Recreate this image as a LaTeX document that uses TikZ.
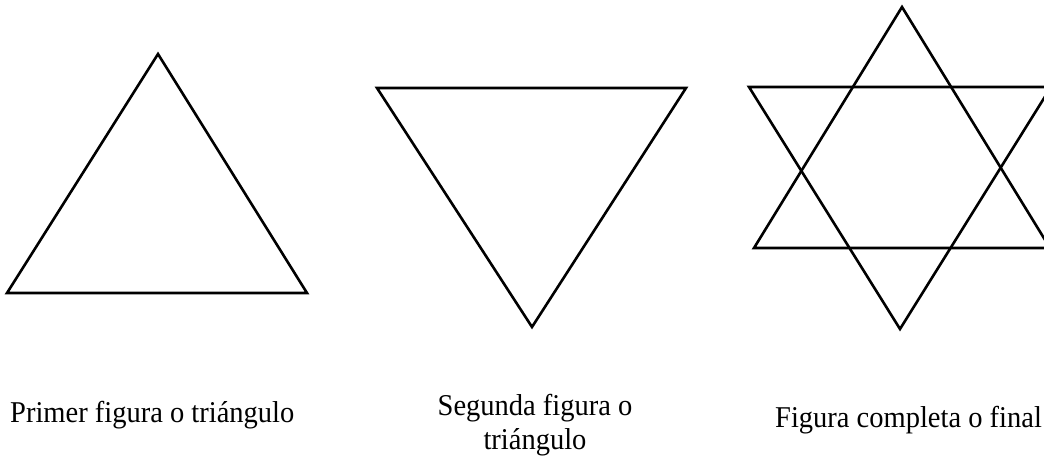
\documentclass[tikz,border=0pt]{standalone}
\usepackage{fontspec}
\setmainfont{Liberation Serif}

\begin{document}
\begin{tikzpicture}[x=1pt,y=-1pt,line join=miter]
	\tikzstyle{tri}=[draw,line width=2.6pt]
	\tikzstyle{caption}=[font=\fontsize{28.5}{32}\selectfont,inner sep=0pt,yscale=1.06]

	\useasboundingbox (0,0) rectangle (1044,460);
	\clip (0,0) rectangle (1044,460);

	% primer triangulo
	\coordinate (A1) at (158,54);
	\coordinate (A2) at (7,293);
	\coordinate (A3) at (307,293);
	% segundo triangulo
	\coordinate (B1) at (377,88);
	\coordinate (B2) at (686,88);
	\coordinate (B3) at (532,327);
	% figura completa
	\coordinate (C1) at (902,7);
	\coordinate (C2) at (754,248);
	\coordinate (C3) at (1050,248);
	\coordinate (D1) at (749,87);
	\coordinate (D2) at (1051,87);
	\coordinate (D3) at (900,329);

	\path[tri] (A1) -- (A2) -- (A3) -- cycle;
	\path[tri] (B1) -- (B2) -- (B3) -- cycle;
	\path[tri] (C1) -- (C2) -- (C3) -- cycle;
	\path[tri] (D1) -- (D2) -- (D3) -- cycle;

	\node[caption,anchor=base west] (primera) at (10,422) {Primer figura o triángulo};
	\node[caption,anchor=base,align=center] (segunda) at (535,449) {Segunda figura o\\triángulo};
	\node[caption,anchor=base west] (final) at (775,427) {Figura completa o final};
\end{tikzpicture}
\end{document}
